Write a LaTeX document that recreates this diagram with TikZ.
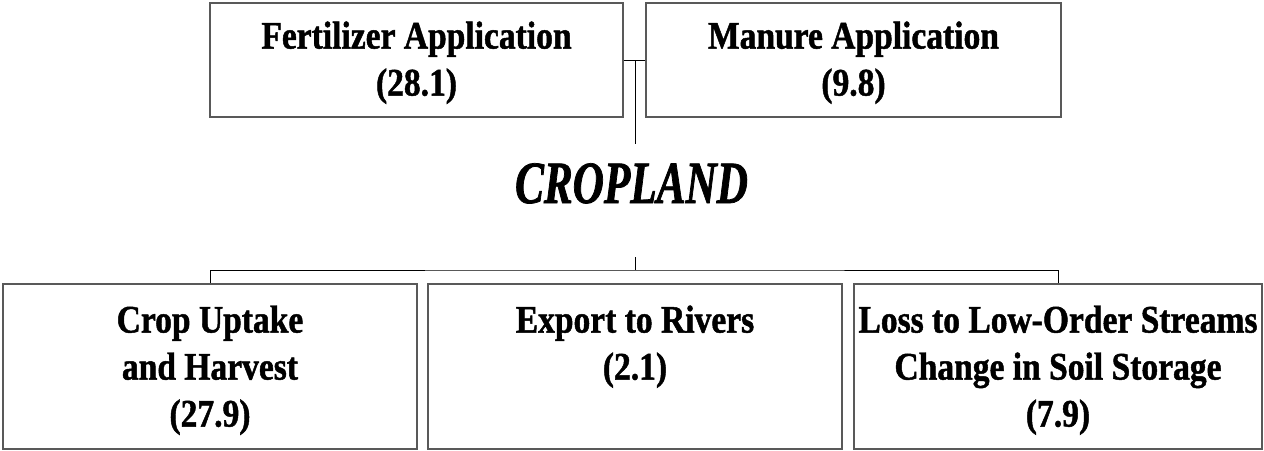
\documentclass[tikz,border=0pt]{standalone}
\usepackage{fontspec}
\setmainfont{Liberation Serif}
\newfontfamily\boxfont[FakeStretch=0.86,FakeBold=1.2]{Liberation Serif}
\newfontfamily\landfont[FakeStretch=0.72,FakeBold=1.2]{Liberation Serif}
\usetikzlibrary{positioning}

\tikzset{
    box/.style={draw=black!65, line width=1.4pt, inner sep=0pt},
    boxtext/.style={align=center, inner sep=0pt, font=\boxfont\bfseries\fontsize{39}{47}\selectfont},
    link/.style={draw=black, line width=0.9pt}
}

\begin{document}
\begin{tikzpicture}[x=1pt, y=-1pt]
    \useasboundingbox (0,0) rectangle (1264,450);
    % inputs
    \node[box, minimum width=413pt, minimum height=114pt] (fert) at (416.5,60) {};
    \node[box, minimum width=415pt, minimum height=114pt] (manure) at (853.5,60) {};
    \node[boxtext, below=19pt of fert.north] (ferttext) {Fertilizer Application\\(28.1)};
    \node[boxtext, below=19pt of manure.north] (manuretext) {Manure Application\\(9.8)};
    % cropland
    \node[anchor=base, inner sep=0pt, font=\landfont\bfseries\itshape\fontsize{60}{72}\selectfont]
        (land) at (631.5,203) {CROPLAND};
    % outputs
    \node[box, minimum width=414pt, minimum height=165pt] (crop) at (210,366.5) {};
    \node[box, minimum width=414pt, minimum height=165pt] (export) at (635,366.5) {};
    \node[box, minimum width=408pt, minimum height=165pt] (loss) at (1058,366.5) {};
    \node[boxtext, below=22pt of crop.north] (croptext) {Crop Uptake\\and Harvest\\(27.9)};
    \node[boxtext, below=22pt of export.north] (exporttext) {Export to Rivers\\(2.1)};
    \node[boxtext, below=22pt of loss.north] (losstext) {Loss to Low-Order Streams\\Change in Soil Storage\\(7.9)};
    % connectors
    \coordinate (topjoin) at (635,60);
    \coordinate (topend) at (635,144);
    \coordinate (botstart) at (635,257);
    \coordinate (hub) at (635,270);
    \draw[link] (fert.east) -- (manure.west);
    \draw[link] (topjoin) -- (topend);
    \draw[link] (botstart) -- (hub);
    \draw[link] (crop.north) |- (hub) -| (loss.north);
\end{tikzpicture}
\end{document}
